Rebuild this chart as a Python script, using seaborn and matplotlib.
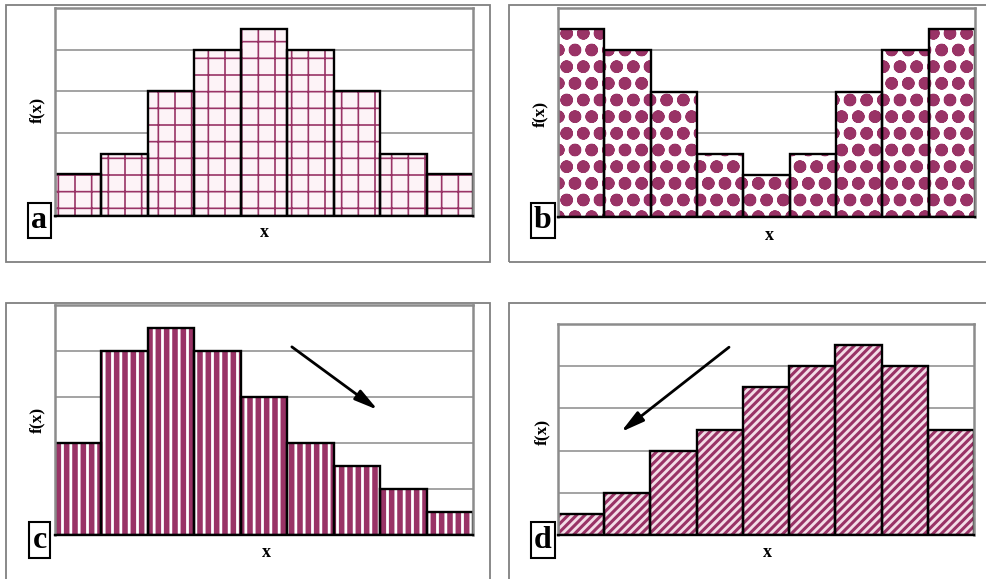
import matplotlib
matplotlib.use("Agg")
import matplotlib.pyplot as plt
import seaborn as sns
from matplotlib.patches import Rectangle

# bar heights (one grid step = 1)
bins = [str(i) for i in range(1, 10)]
f_a = [1, 1.5, 3, 4, 4.5, 4, 3, 1.5, 1]
f_b = [4.5, 4, 3, 1.5, 1, 1.5, 3, 4, 4.5]
f_c = [2, 4, 4.5, 4, 3, 2, 1.5, 1, 0.5]
f_d = [0.5, 1, 2, 2.5, 3.5, 4, 4.5, 4, 2.5]
letters = ['a', 'b', 'c', 'd']

W, H = 986, 579
plum = '#993366'
grid_col = '#8a8a8a'

plt.rcParams['font.family'] = ['Liberation Serif', 'DejaVu Serif']
plt.rcParams['font.weight'] = 'bold'

fig = plt.figure(figsize=(W / 100, H / 100), dpi=100)


def fig_box(l, t, r, b):
    # pixel box (from top-left) -> figure fraction rect
    return [l / W, 1 - b / H, (r - l) / W, (b - t) / H]


def ax_pt(box, px, py):
    l, t, r, b = box
    return (px - l) / (r - l), (b - py) / (b - t)


def draw_panel(ax, vals, face, hcol, hatch, hlw):
    plt.rcParams['hatch.linewidth'] = hlw
    sns.barplot(x=bins, y=vals, color=face, edgecolor=hcol, linewidth=0,
                width=1, saturation=1, ax=ax)
    for p in ax.patches:
        p.set_hatch(hatch)
        if hasattr(p, 'set_hatch_linewidth'):
            p.set_hatch_linewidth(hlw)
    # black outlines on top
    sns.barplot(x=bins, y=vals, color='black', fill=False, linewidth=1.7,
                width=1, saturation=1, ax=ax)


panels = [
    # values, axes box, frame, face, hatch colour, hatch, hatch lw, letter pos, f(x) pos, x pos
    (f_a, (55, 8, 473, 216), (6, 5, 490, 262), '#fdf3f7', plum, '+', 1.2, (39.5, 220.5), (37, 110), (264, 237)),
    (f_b, (558, 8, 975, 217), (509, 5, 1000, 262), 'white', plum, 'o', 4.3, (543, 220.5), (540, 114), (769, 240)),
    (f_c, (55, 305, 473, 535), (6, 303, 490, 600), plum, 'white', '||', 2.0, (39.5, 540), (37, 420), (266, 557)),
    (f_d, (558, 324, 974, 535), (509, 303, 1000, 600), '#f3dde7', plum, '////', 2.2, (543, 540), (542, 432), (767, 557)),
]

axes = []
for i, (vals, box, frame, face, hcol, hatch, hlw, lpos, ypos, xpos) in enumerate(panels):
    fl, ft, fr, fb = frame
    fig.add_artist(Rectangle((fl / W, 1 - fb / H), (fr - fl) / W, (fb - ft) / H,
                             transform=fig.transFigure, fill=False,
                             ec='#808080', lw=1.3, zorder=0))
    ax = fig.add_axes(fig_box(*box))
    draw_panel(ax, vals, face, hcol, hatch, hlw)
    ax.set_xlim(-0.5, 8.5)
    ax.set_ylim(0, 5)
    ax.set_yticks([1, 2, 3, 4])
    ax.set_axisbelow(True)
    ax.grid(axis='y', color=grid_col, lw=1.1)
    ax.tick_params(length=0, labelbottom=False, labelleft=False)
    for s in ['left', 'top', 'right']:
        ax.spines[s].set_color('#8c8c8c')
        ax.spines[s].set_linewidth(1.8)
    ax.spines['bottom'].set_color('black')
    ax.spines['bottom'].set_linewidth(1.7)

    ax.set_ylabel('f(x)', fontsize=12.5, fontweight='bold', va='center')
    ax.yaxis.set_label_coords(*ax_pt(box, *ypos))
    ax.set_xlabel('x', fontsize=13, fontweight='bold', va='baseline')
    ax.xaxis.set_label_coords(*ax_pt(box, *xpos))

    fig.text(lpos[0] / W, 1 - lpos[1] / H, letters[i], fontsize=23, fontweight='bold',
             ha='center', va='center',
             bbox=dict(boxstyle='square,pad=0.1', fc='white', ec='black', lw=1.5))
    axes.append(ax)

# trend arrows
arrow_kw = dict(arrowstyle='-|>,head_length=1.0,head_width=0.25', color='black',
                lw=2, mutation_scale=14, shrinkA=0, shrinkB=0)
axes[2].annotate('', xy=(6.45, 2.72), xytext=(4.6, 4.09), arrowprops=arrow_kw)
axes[3].annotate('', xy=(0.86, 2.44), xytext=(3.2, 4.45), arrowprops=arrow_kw)

fig.savefig('out.png', dpi=100)
